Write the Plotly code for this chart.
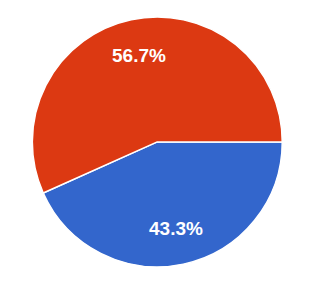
import math
import plotly.graph_objects as go

labels = ["Blue", "Red"]
values = [43.3, 56.7]
colors = ["#3366cc", "#dc3912"]

W, H = 320, 301
dom_x = [0.101, 0.882]
dom_y = [0.113, 0.944]

fig = go.Figure(go.Pie(
    labels=labels,
    values=values,
    sort=False,
    direction="clockwise",
    rotation=90,
    marker=dict(colors=colors, line=dict(color="white", width=1.5)),
    textinfo="none",
    hoverinfo="skip",
    domain=dict(x=dom_x, y=dom_y),
))

# label positions along each slice's bisector (Google-Charts-like placement)
cx = (dom_x[0] + dom_x[1]) / 2 * W
cy = (dom_y[0] + dom_y[1]) / 2 * H
radius = min((dom_x[1] - dom_x[0]) * W, (dom_y[1] - dom_y[0]) * H) / 2
total = sum(values)
cum = 0.0
annotations = []
for v in values:
    mid = (cum + v / 2) / total * 360.0  # degrees clockwise from 3 o'clock
    cum += v
    ang = math.radians(-mid)
    d = radius * 0.71
    x = (cx + d * math.cos(ang)) / W
    y = (cy + d * math.sin(ang)) / H
    annotations.append(dict(
        x=x, y=y, xref="paper", yref="paper", showarrow=False,
        text=f"{v / total * 100:.1f}%",
        font=dict(family="Liberation Sans, Arial", size=19, color="white", weight="bold"),
        xanchor="center", yanchor="middle",
    ))

fig.update_layout(
    width=W, height=H,
    margin=dict(l=0, r=0, t=0, b=0),
    showlegend=False,
    paper_bgcolor="white",
    annotations=annotations,
)
fig.write_html("out.html")
